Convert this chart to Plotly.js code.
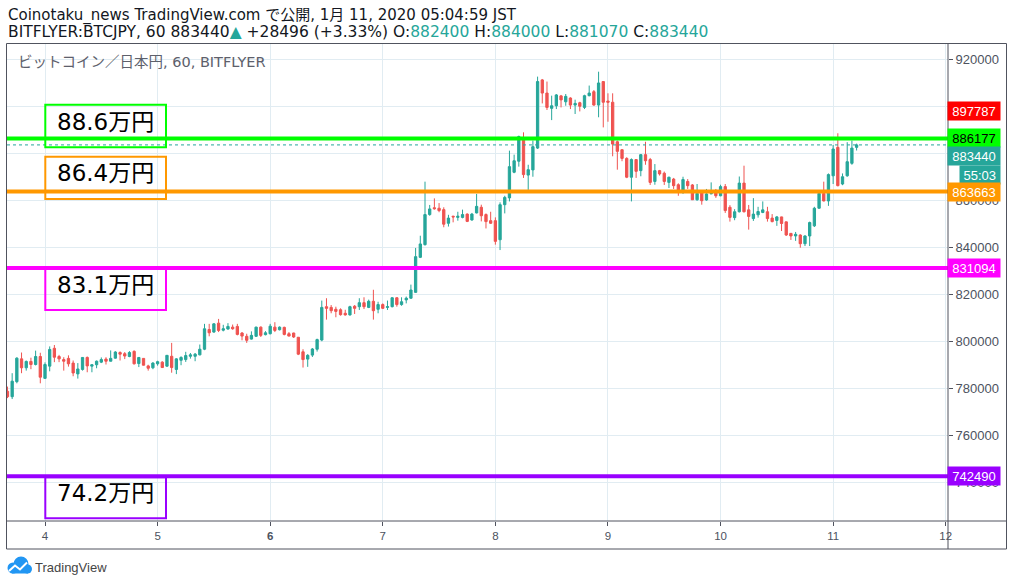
<!DOCTYPE html>
<html><head><meta charset="utf-8">
<script src="https://cdn.plot.ly/plotly-3.0.1.min.js"></script>
<style>html,body{margin:0;padding:0;background:#fff}#chart{width:1014px;height:586px}</style>
</head><body><div id="chart"></div>
<script>
// Hourly OHLC bars, BITFLYER:BTCJPY, first bar 2020-01-03 16:00
const openP = [778600,776300,782700,792400,788600,791300,790000,793400,784100,789300,
796900,793400,792100,792600,790600,786000,787900,793000,789300,789900,
791000,792300,791400,792700,795100,794600,793400,795600,790400,792600,
789400,788600,790300,791000,789300,793500,787900,791800,792100,793500,
793500,794100,796500,804900,803800,807600,804600,805100,805900,806200,
803400,802000,800800,802000,805900,802700,803100,805900,804800,805800,
803100,803400,801600,795400,792300,794000,796500,800400,814600,814300,
813500,813300,811800,811100,814800,814600,816300,814300,816900,813500,
815500,814300,814600,818400,815500,817500,818200,820700,835600,841000,
853800,856700,856500,855900,850100,853100,852600,852600,854000,851500,
854500,856900,853800,851200,851200,843100,858000,860900,871800,876500,
886400,870600,872800,882100,911100,905500,899000,900100,904300,901800,
903400,900400,901400,899400,904400,906100,900400,910400,902100,901600,
884800,881400,877700,869700,877200,872500,879300,877200,867900,872500,
871400,867500,868900,866500,864000,867900,866400,860100,863000,860000,
862600,863000,861800,865700,856900,852500,855000,867200,855800,852100,
853700,854700,855000,852300,851300,852800,850700,845800,844700,845100,
841400,844700,849000,856500,862800,859600,870300,882400,866800,870300,
875600,882400];
const highP = [780600,786300,793100,795100,791700,792900,795900,795000,790900,797700,
798300,794100,793100,793900,791700,790600,793100,793400,790000,791700,
793000,793100,796000,795700,795600,795300,795700,796000,793100,792700,
789900,791000,791600,791400,794000,799200,792700,793500,795400,794900,
794900,798500,807300,807300,807600,809400,806900,807600,807000,807300,
803800,803100,804100,806100,806200,804200,807300,808000,806200,806100,
803800,803500,801700,796500,794400,797000,801000,817200,818200,815300,
814600,813900,813300,815000,815300,818200,818600,817600,821800,816700,
816000,817200,818600,818600,818600,818900,824000,839600,844800,867800,
857900,860700,858700,856900,853700,853300,855000,855900,854300,854500,
862600,858000,854300,855000,852600,859000,861800,881000,879300,887400,
888800,875000,885300,912500,911500,910400,904400,905100,904700,905100,
903700,902700,901800,904800,908700,906800,914600,910600,905400,905400,
885300,881700,878200,877700,877400,879500,884800,877900,875300,872800,
872100,869900,869400,867100,869900,868900,866800,866800,864000,864700,
867500,864700,866500,866800,857800,856100,870000,874600,857900,860800,
857100,859400,857100,854000,853200,852900,850800,845900,846400,845400,
845000,850800,857100,863200,867800,871300,883400,888400,871300,884600,
885300,884000];
const lowP = [775700,775300,782000,786300,787400,788000,789600,782000,783900,787100,
791000,791000,787400,789100,785000,784000,787400,786700,786700,788400,
790600,790000,791300,792500,791700,792300,793100,790000,788900,789600,
787400,788000,789500,788500,789000,786500,785900,789700,791100,792500,
791400,793900,796100,802000,803500,803800,804100,804800,804800,802400,
800300,799200,800600,801700,801700,802400,802800,803800,804500,802400,
802000,801300,794000,788700,789000,793200,795500,799900,809100,811800,
810100,810800,810800,810800,811500,813200,813600,814000,809100,811800,
813600,813200,814300,814600,815000,816000,818000,820500,835300,840600,
853300,855900,854800,848400,848700,850500,851200,852200,850600,851200,
854300,850900,847900,849800,841000,838700,854300,859400,871400,874200,
869400,864300,869900,881700,901100,898300,894000,898700,899400,900100,
898700,896600,897700,898700,904100,900100,895200,890900,893300,878600,
872900,876500,869300,859400,869400,870100,875000,866400,866500,870400,
866400,865100,864700,861800,862600,864700,860000,859700,858000,859700,
862500,860900,861600,854500,850800,851400,854700,854700,847400,851100,
852500,854400,850800,850500,849000,846800,844700,843000,842600,839700,
840400,840400,848500,856300,859400,857500,866800,865800,866300,869900,
875000,881070];
const closeP = [776300,782900,792700,788600,791300,790000,793400,784600,790000,796400,
793100,792400,791400,790300,786400,788100,793000,789400,789900,791400,
792100,791400,792600,795300,794400,793600,795100,790300,793000,789700,
788400,790600,791200,788700,793900,788700,792400,793000,793800,794100,
794400,796500,805200,803500,807300,804500,805200,806200,805200,802800,
802100,800300,802400,805900,802400,803500,806300,804500,805900,802800,
802100,801700,794400,792100,793900,796600,800600,814300,813900,812900,
812600,811200,811100,814600,813900,816300,814600,816900,812900,815500,
813900,814600,818400,815500,816700,818200,821700,835900,841300,853800,
856200,856300,855500,849700,852300,852800,853100,853800,850900,854000,
857300,853300,850800,850100,842400,858000,861100,874200,876700,887000,
870800,872900,882700,910400,905500,899400,900100,904700,902600,904100,
900400,901100,899900,904400,905500,900400,909800,901600,901600,883800,
880700,877700,869700,877200,872200,879300,876700,867500,872500,871100,
867900,869700,866100,864000,868700,866100,860100,862800,859700,862600,
862800,861800,865700,855500,852600,855000,867200,855000,853000,854000,
855100,855800,852100,850800,852800,850000,845100,844700,845400,841400,
844700,850400,856500,862800,859600,870800,881700,866100,869900,876300,
882100,883440];
const firstBarUTC = '2020-01-03T16:00:00Z';
const dayTicks = ['2020-01-04','2020-01-05','2020-01-06','2020-01-07','2020-01-08','2020-01-09','2020-01-10','2020-01-11','2020-01-12'];
const dayLabels = ['4','5','<b>6</b>','7','8','9','10','11','12'];
const priceTicks = [740000,760000,780000,800000,820000,840000,860000,880000,900000,920000];
// tick labels hidden behind the coloured price tags in the reference
const hiddenTicks = [880000, 900000];
const levelPrices = [886177, 863663, 831094, 742490];
const levelTexts = ['88.6万円','86.4万円','83.1万円','74.2万円'];
const alertPrice = 897787;
const countdown = '55:03';
const dailyChange = '+28496 (+3.33%)';

// ---- geometry helpers (pixel -> paper)
const PL=7, PR=948, PT=44, PB=521;
const px = x => (x-PL)/(PR-PL);
const py = y => (PB-y)/(PB-PT);
const t0 = Date.parse(firstBarUTC);
const times = openP.map((_, i) => new Date(t0 + i*3600000).toISOString().slice(0,16).replace('T',' '));
const last = openP.length-1;
const TEAL='#26a69a', RED='#ef5350';
const levelColors = ['#00ff00','#ff9800','#ff00ff','#9900ff'];
const boxPix = [[104.7,147.3],[156.7,199],[268.5,310],[477.3,518.3]];
const textPixY = [122,172.5,285,492.5];

const shapes = [];
const annotations = [];

// horizontal levels
levelPrices.forEach((p,i)=>{
  shapes.push({type:'line', xref:'paper', yref:'y', x0:0, x1:1, y0:p, y1:p, layer:'above',
    line:{color:levelColors[i], width:4}});
});
// current price dotted line
shapes.push({type:'line', xref:'paper', yref:'y', x0:0, x1:1, y0:closeP[last], y1:closeP[last], layer:'above',
  line:{color:TEAL, width:1, dash:'dot'}});
// text boxes
levelTexts.forEach((t,i)=>{
  shapes.push({type:'rect', xref:'paper', yref:'paper', x0:px(45.3), x1:px(166), y0:py(boxPix[i][1]), y1:py(boxPix[i][0]),
    layer:'above', line:{color:levelColors[i], width:2}, fillcolor:'rgba(0,0,0,0)'});
  annotations.push({xref:'paper', yref:'paper', x:px(105.7), y:py(textPixY[i]), text:t, showarrow:false,
    xanchor:'center', yanchor:'middle', font:{family:'DejaVu Sans, Noto Sans CJK JP', size:23, color:'#000'}});
});
// frame
const FC='#50535e';
shapes.push({type:'rect', xref:'paper', yref:'paper', x0:px(6.5), x1:px(1006.5), y0:py(549), y1:py(43.5), layer:'above', line:{color:FC, width:1}});
shapes.push({type:'line', xref:'paper', yref:'paper', x0:px(948), x1:px(948), y0:py(549), y1:py(43.5), layer:'above', line:{color:FC, width:1}});
shapes.push({type:'line', xref:'paper', yref:'paper', x0:px(6.5), x1:px(1006.5), y0:py(521), y1:py(521), layer:'above', line:{color:FC, width:1}});

// logo cloud
const BLUE='#2196f3';
[[7.5,562.5,18.5,573.5],[13.5,556.5,28.5,571.5],[23,564.5,32,573.5]].forEach(c=>{
  shapes.push({type:'circle', xref:'paper', yref:'paper', x0:px(c[0]), x1:px(c[2]), y0:py(c[3]), y1:py(c[1]), fillcolor:BLUE, line:{width:0}, layer:'above'});
});
shapes.push({type:'rect', xref:'paper', yref:'paper', x0:px(12), x1:px(28), y0:py(573.5), y1:py(567), fillcolor:BLUE, line:{width:0}, layer:'above'});
const zig = [[9,571],[15,565.5],[20,569.5],[27,562.5]];
shapes.push({type:'path', xref:'paper', yref:'paper', layer:'above',
  path: zig.map((p,i)=>(i?'L':'M')+px(p[0])+','+py(p[1])).join(' '),
  line:{color:'#ffffff', width:2}});
annotations.push({xref:'paper', yref:'paper', x:px(33), y:py(567.5), xanchor:'left', yanchor:'middle', showarrow:false,
  text:'TradingView', font:{family:'Liberation Sans, Arial', size:13, color:'#454545'}});

// header lines
const tc = s => '<span style="color:'+TEAL+'">'+s+'</span>';
annotations.push({xref:'paper', yref:'paper', x:px(5.5), y:py(15.5), xanchor:'left', yanchor:'middle', showarrow:false,
  text:'Coinotaku_news TradingView.com で公開, 1月 11, 2020 05:04:59 JST',
  font:{family:'DejaVu Sans, Noto Sans CJK JP', size:15, color:'#131722'}});
annotations.push({xref:'paper', yref:'paper', x:px(5.5), y:py(32), xanchor:'left', yanchor:'middle', showarrow:false,
  text:'BITFLYER:BTCJPY, 60 '+closeP[last]+tc('▲')+' '+dailyChange+' O:'+tc(openP[last])+' H:'+tc(highP[last])+' L:'+tc(lowP[last])+' C:'+tc(closeP[last]),
  font:{family:'DejaVu Sans, Noto Sans CJK JP', size:15.5, color:'#131722'}});
annotations.push({xref:'paper', yref:'paper', x:px(15.5), y:py(62.5), xanchor:'left', yanchor:'middle', showarrow:false,
  text:'ビットコイン／日本円, 60, BITFLYER',
  font:{family:'DejaVu Sans, Noto Sans CJK JP', size:14.5, color:'#5d606b'}});

// price labels on the axis
const AX = px(1000.7);
const lab = (price, text, bg, fg, shift, w) => annotations.push({xref:'paper', yref:'y', x:AX, y:price, xanchor:'right', yanchor:'middle',
  yshift:shift||0, showarrow:false, text:text, bgcolor:bg, width:w||50, height:16, borderpad:1, align:'center',
  font:{family:'Liberation Sans Narrow, Liberation Sans, Arial', size:13, color:fg}});
lab(alertPrice, String(alertPrice), '#ff0000', '#ffffff');
lab(levelPrices[0], String(levelPrices[0]), '#00ff00', '#000000');
lab(closeP[last], String(closeP[last]), TEAL, '#ffffff', -11);
lab(closeP[last], countdown, TEAL, '#ffffff', -29.8, 37.5);
lab(levelPrices[1], String(levelPrices[1]), '#ff9800', '#ffffff', -1);
lab(levelPrices[2], String(levelPrices[2]), '#ff00ff', '#ffffff');
lab(levelPrices[3], String(levelPrices[3]), '#9900ff', '#ffffff');

const trace = {type:'candlestick', x:times, open:openP, high:highP, low:lowP, close:closeP,
  increasing:{line:{color:TEAL, width:1}, fillcolor:TEAL},
  decreasing:{line:{color:RED, width:1}, fillcolor:RED},
  whiskerwidth:0, hoverinfo:'none', showlegend:false};

const yTop = 920000 + (59-PT)/2.35*1000;
const yBot = 920000 - (PB-59)/2.35*1000;
const layout = {
  width:1014, height:586, paper_bgcolor:'#ffffff', plot_bgcolor:'#ffffff',
  margin:{l:PL, r:1014-PR, t:PT, b:586-PB, pad:0},
  showlegend:false, dragmode:false,
  xaxis:{type:'date', range:['2020-01-03 15:54','2020-01-12 00:29'], rangeslider:{visible:false},
    tickvals:dayTicks, ticktext:dayLabels, ticks:'outside', ticklen:4, tickcolor:FC,
    showgrid:true, gridcolor:'#e1ecf2', zeroline:false, showline:false, fixedrange:true,
    tickfont:{family:'Liberation Sans Narrow, Liberation Sans, Arial', size:11.5, color:'#4c525e'}},
  yaxis:{side:'right', range:[yBot, yTop], tickvals:priceTicks,
    ticktext:priceTicks.map(v => hiddenTicks.includes(v) ? '' : String(v)),
    ticks:'outside', ticklen:4, tickcolor:FC, showgrid:true, gridcolor:'#e1ecf2', zeroline:false, showline:false, fixedrange:true,
    tickfont:{family:'Liberation Sans Narrow, Liberation Sans, Arial', size:13, color:'#4c525e'}},
  shapes:shapes, annotations:annotations
};
Plotly.newPlot('chart', [trace], layout, {displayModeBar:false, staticPlot:true});
</script></body></html>
